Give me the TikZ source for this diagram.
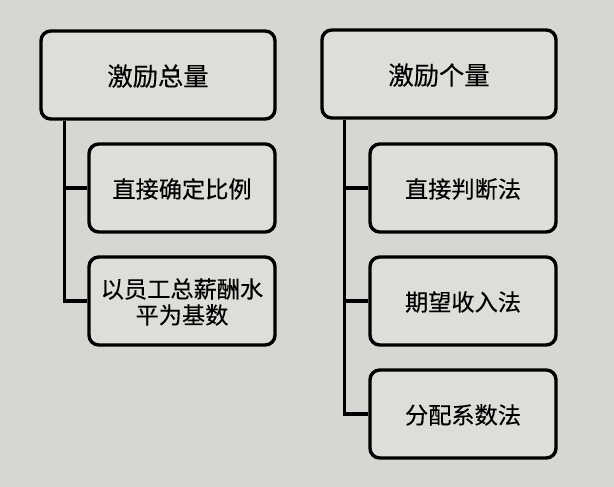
\documentclass[tikz,border=0pt]{standalone}
\usepackage{fontspec}
\newfontfamily\cjk[FakeBold=0.25]{Noto Sans CJK SC}
\definecolor{paper}{RGB}{214,214,210}
\definecolor{boxfill}{RGB}{221,221,217}

\begin{document}
\begin{tikzpicture}[x=0.025cm,y=-0.025cm,
	topbox/.style={draw,line width=2.4pt,rounded corners=7pt,fill=boxfill,minimum width=5.85cm,minimum height=2.2cm,text depth=-1pt,font=\cjk\fontsize{18}{20}\selectfont},
	subbox/.style={topbox,minimum width=4.65cm,align=center,font=\cjk\fontsize{16.5}{18.5}\selectfont},
	link/.style={line width=2.2pt}]
	\fill[paper](0,0) rectangle (614,487);
	
	% left column
	\node[topbox] (total) at (158,75) {激励总量};
	\node[subbox] (ratio) at (182,188) {直接确定比例};
	\node[subbox] (base) at (182,301) {以员工总薪酬水\\平为基数};
	
	\draw[link]([xshift=0.625cm]total.south west) |- (ratio.west);
	\draw[link]([xshift=0.625cm]total.south west) |- (base.west);
	
	% right column
	\node[topbox] (single) at (439,74) {激励个量};
	\node[subbox] (judge) at (463,188) {直接判断法};
	\node[subbox] (income) at (463,301) {期望收入法};
	\node[subbox] (coeff) at (463,414) {分配系数法};
	
	\draw[link]([xshift=0.6cm]single.south west) |- (judge.west);
	\draw[link]([xshift=0.6cm]single.south west) |- (income.west);
	\draw[link]([xshift=0.6cm]single.south west) |- (coeff.west);
	
\end{tikzpicture}
\end{document}
